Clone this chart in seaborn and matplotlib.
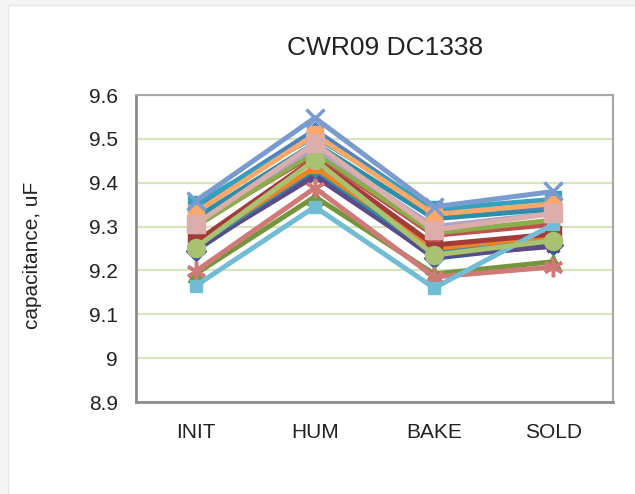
import numpy as np
import pandas as pd
import matplotlib
matplotlib.use("Agg")
import matplotlib.pyplot as plt
from matplotlib.patches import Rectangle
from matplotlib.ticker import FixedLocator
import seaborn as sns

stages = ["INIT", "HUM", "BAKE", "SOLD"]
ytick_vals = [8.9, 9.0, 9.1, 9.2, 9.3, 9.4, 9.5, 9.6]
ytick_labels = ["8.9", "9", "9.1", "9.2", "9.3", "9.4", "9.5", "9.6"]

# capacitance per unit: INIT, HUM, BAKE, SOLD
unit_a = [9.358, 9.548, 9.345, 9.380]
unit_b = [9.345, 9.520, 9.335, 9.345]
unit_c = [9.352, 9.505, 9.340, 9.362]
unit_d = [9.332, 9.510, 9.328, 9.352]
unit_e = [9.320, 9.490, 9.318, 9.340]
unit_f = [9.315, 9.480, 9.300, 9.330]
unit_g = [9.300, 9.470, 9.285, 9.315]
unit_h = [9.305, 9.465, 9.280, 9.305]
unit_i = [9.305, 9.490, 9.292, 9.330]
unit_j = [9.265, 9.455, 9.258, 9.283]
unit_k = [9.260, 9.435, 9.250, 9.278]
unit_l = [9.255, 9.430, 9.240, 9.270]
unit_m = [9.245, 9.425, 9.228, 9.258]
unit_n = [9.250, 9.415, 9.232, 9.255]
unit_o = [9.252, 9.452, 9.235, 9.268]
unit_p = [9.192, 9.368, 9.192, 9.220]
unit_q = [9.198, 9.388, 9.185, 9.208]
unit_r = [9.165, 9.345, 9.160, 9.305]

units = {
    "m": unit_m, "n": unit_n, "l": unit_l, "k": unit_k, "j": unit_j,
    "h": unit_h, "g": unit_g, "f": unit_f, "e": unit_e, "b": unit_b,
    "c": unit_c, "d": unit_d, "p": unit_p, "q": unit_q, "r": unit_r,
    "o": unit_o, "i": unit_i, "a": unit_a,
}

star = (6, 2, 0)
styles = {
    "a": ("#7a9bcf", "x", 13),
    "b": ("#4f81bd", "D", 8),
    "c": ("#31a3bf", "s", 11),
    "d": ("#f9a86a", "s", 11),
    "e": ("#2b8fa8", "s", 7),
    "f": ("#b3a2c7", "D", 7),
    "g": ("#8aae4b", "^", 8),
    "h": ("#c0504d", "s", 8),
    "i": ("#ddadac", "s", 13),
    "j": ("#a33b39", "s", 11),
    "k": ("#ef8126", "^", 9),
    "l": ("#2c8fa6", "D", 7),
    "m": ("#2f5c9b", "D", 10),
    "n": ("#5e4a87", "x", 8),
    "o": ("#a8c272", "o", 13),
    "p": ("#74963a", "^", 12),
    "q": ("#cf7a78", star, 14),
    "r": ("#72bcd5", "s", 8),
}

rows = []
for name, vals in units.items():
    for st, v in zip(stages, vals):
        rows.append({"unit": name, "stage": st, "cap": v})
df = pd.DataFrame(rows)

sns.set_style("white")
plt.rcParams["font.family"] = ["Liberation Sans", "DejaVu Sans"]

fig = plt.figure(figsize=(6.35, 4.94), dpi=100, facecolor="#f3f3f3")
fig.patches.append(Rectangle((8 / 635, 0), 1, 1 - 5 / 494, transform=fig.transFigure,
                             facecolor="white", edgecolor="#e6e6e6", lw=1, zorder=-10))

ax = fig.add_axes([136 / 635, 1 - 402 / 494, (613 - 136) / 635, (402 - 95) / 494])
ax.set_zorder(5)

for name in units:
    color, mk, ms = styles[name]
    sub = df[df["unit"] == name]
    sns.lineplot(data=sub, x="stage", y="cap", ax=ax, sort=False, color=color,
                 linewidth=3.6, marker=mk, markersize=ms, markeredgecolor=color,
                 markerfacecolor=color, markeredgewidth=2.5 if mk in ("x", star) else 1,
                 solid_joinstyle="miter")

ax.set_xlim(-0.5, 3.5)
ax.set_ylim(8.9, 9.6)
ax.set_yticks(ytick_vals)
ax.set_yticklabels(ytick_labels)
ax.set_xlabel("")
ax.set_ylabel("")
ax.xaxis.set_minor_locator(FixedLocator([-0.5, 0.5, 1.5, 2.5, 3.5]))
ax.tick_params(axis="x", which="major", length=0, pad=15, labelsize=15, labelcolor="#222222")
ax.tick_params(axis="x", which="minor", length=6, width=1.5, color="#8c8c8c", direction="out")
ax.tick_params(axis="y", which="major", length=5, width=1.5, color="#8c8c8c", direction="in",
               pad=13, labelsize=15, labelcolor="#222222")

ax.grid(axis="y", color="#d8e4bc", linewidth=1.6)
ax.grid(axis="x", visible=False)
ax.set_axisbelow(True)
for side in ["top", "right"]:
    ax.spines[side].set_color("#a6a6a6")
    ax.spines[side].set_linewidth(1.5)
for side in ["left", "bottom"]:
    ax.spines[side].set_color("#8c8c8c")
    ax.spines[side].set_linewidth(2)

fig.text(385 / 635, 1 - 48 / 494, "CWR09 DC1338", fontsize=19, ha="center", va="center",
         color="#222222")
fig.text(33 / 635, 1 - 255 / 494, "capacitance, uF", fontsize=15, rotation=90,
         ha="center", va="center", color="#222222")

fig.savefig("out.png", dpi=100, facecolor=fig.get_facecolor())
